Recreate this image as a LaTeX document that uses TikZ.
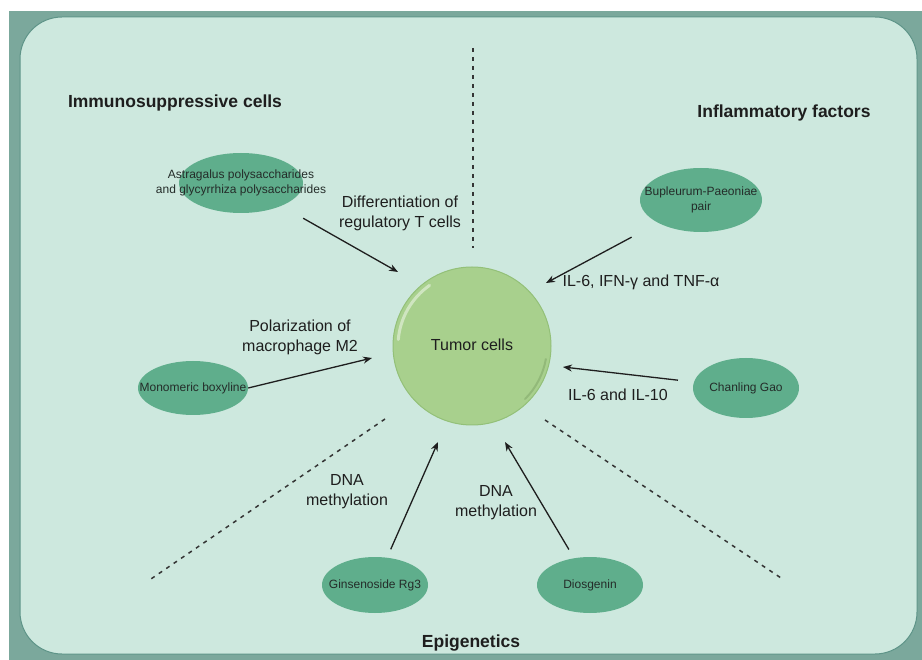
\documentclass[tikz,border=0pt]{standalone}
\usepackage{fontspec}
\setmainfont{Liberation Sans}
\usetikzlibrary{arrows.meta,shapes.geometric}
\definecolor{framec}{HTML}{7BA89C}
\definecolor{panelc}{HTML}{CDE8DE}
\definecolor{paneledge}{HTML}{5E9488}
\definecolor{ellc}{HTML}{5FAE8C}
\definecolor{cellc}{HTML}{A8D08D}
\definecolor{celledge}{HTML}{93C078}
\definecolor{inkc}{HTML}{1E1E1E}
\begin{document}
\begin{tikzpicture}[x=1pt,y=-1pt,
  ellbox/.style={ellipse, fill=ellc, inner sep=0pt},
  elltext/.style={font=\fontsize{12}{14.5}\selectfont, text=inkc!90!ellc, align=center, inner sep=0pt},
  lbl/.style={font=\fontsize{16}{20}\selectfont, text=inkc, align=center, inner sep=0pt},
  head/.style={font=\fontsize{17.5}{20}\selectfont\bfseries, text=inkc, inner sep=0pt},
  arr/.style={-{Stealth[length=9pt,width=7pt]}, line width=1.3pt, draw=inkc},
  sep/.style={line width=1.5pt, draw=inkc!90, dash pattern=on 4pt off 5pt}
]
\useasboundingbox (0,0) rectangle (922,660);
\fill[white] (0,0) rectangle (922,660);
\fill[framec] (9,11) rectangle (922,660);
\filldraw[fill=panelc, draw=paneledge, line width=1pt, rounded corners=42pt] (20,17) rectangle (917,654);

% separators
\coordinate (v1) at (473,48);
\coordinate (v2) at (473,248);
\coordinate (l1) at (385,419);
\coordinate (l2) at (148,581);
\coordinate (r1) at (545,420);
\coordinate (r2) at (784,580);
\draw[sep] (v1) -- (v2);
\draw[sep] (l1) -- (l2);
\draw[sep] (r1) -- (r2);

% headings
\node[head] (h1) at (175,103) {Immunosuppressive cells};
\node[head] (h2) at (784,113) {Inflammatory factors};
\node[head] (h3) at (471,643) {Epigenetics};

% tumor cell
\node[circle, fill=cellc, draw=celledge, line width=1pt, minimum size=158pt, inner sep=0pt] (tumor) at (472,346) {};
\draw[white!45!cellc, line width=3pt, line cap=round] (tumor.center) ++(-175:74) arc[start angle=-175, end angle=-125, radius=74];
\draw[celledge!85!black, line width=2pt, line cap=round, opacity=0.5] (tumor.center) ++(10:75) arc[start angle=10, end angle=45, radius=75];
\node[lbl] (tumort) at (472,345) {Tumor cells};

% ellipses
\node[ellbox, minimum width=124pt, minimum height=60pt] (astr) at (241,183) {};
\node[elltext] (astrt) at (astr) {Astragalus polysaccharides\\and glycyrrhiza polysaccharides};
\node[ellbox, minimum width=122pt, minimum height=64pt] (bup) at (701,200) {};
\node[elltext] (bupt) at (bup) {Bupleurum-Paeoniae\\pair};
\node[ellbox, minimum width=110pt, minimum height=54pt] (mono) at (193,388) {};
\node[elltext] (monot) at (mono) {Monomeric boxyline};
\node[ellbox, minimum width=106pt, minimum height=60pt] (chan) at (746,388) {};
\node[elltext] (chant) at (chan) {Chanling Gao};
\node[ellbox, minimum width=106pt, minimum height=56pt] (gins) at (375,585) {};
\node[elltext] (ginst) at (gins) {Ginsenoside Rg3};
\node[ellbox, minimum width=106pt, minimum height=56pt] (dios) at (590,585) {};
\node[elltext] (diost) at (dios) {Diosgenin};

% arrow tips
\coordinate (t1) at (398,272);
\coordinate (t2) at (546,283);
\coordinate (t3) at (372,358);
\coordinate (t4) at (563,367);
\coordinate (t5) at (438,442);
\coordinate (t6) at (505,442);

\draw[arr, shorten <=25pt] (astr) -- (t1);
\draw[arr, shorten <=30pt] (bup) -- (t2);
\draw[arr] (mono.east) -- (t3);
\draw[arr, shorten <=16pt] (chan) -- (t4);
\draw[arr, shorten <=9pt] (gins) -- (t5);
\draw[arr, shorten <=10pt] (dios) -- (t6);

% labels
\node[lbl] (lab1) at (400,213) {Differentiation of\\regulatory T cells};
\node[lbl] (lab2) at (641,282) {IL-6, IFN-γ and TNF-α};
\node[lbl] (lab3) at (300,337) {Polarization of\\macrophage M2};
\node[lbl] (lab4) at (618,395) {IL-6 and IL-10};
\node[lbl] (lab5) at (347,492) {DNA\\methylation};
\node[lbl] (lab6) at (496,503) {DNA\\methylation};
\end{tikzpicture}
\end{document}
